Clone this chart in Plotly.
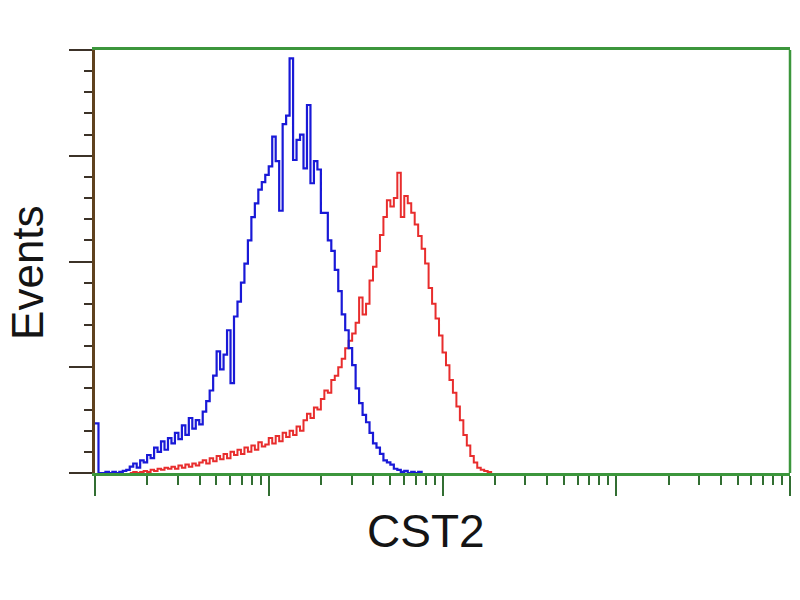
import numpy as np
import plotly.graph_objects as go

# log10 fluorescence intensity (decades) and event counts (axis units, 0-4)
blue_log = [round(0.02 * i, 2) for i in range(95)]
blue_counts = [
    0.47, 0.00, 0.00, 0.01, 0.00, 0.01, 0.00, 0.01, 0.02, 0.03,
    0.06, 0.09, 0.05, 0.12, 0.10, 0.17, 0.14, 0.24, 0.20, 0.30,
    0.22, 0.33, 0.28, 0.38, 0.32, 0.45, 0.36, 0.52, 0.42, 0.50,
    0.46, 0.58, 0.68, 0.78, 0.92, 1.15, 0.98, 1.12, 1.35, 0.85,
    1.48, 1.62, 1.80, 1.98, 2.20, 2.42, 2.55, 2.68, 2.75, 2.82,
    2.90, 3.18, 2.95, 2.48, 3.30, 3.38, 3.92, 2.96, 3.15, 3.20,
    2.88, 3.48, 2.74, 2.95, 2.87, 2.46, 2.46, 2.20, 2.10, 1.92,
    1.72, 1.50, 1.35, 1.18, 1.02, 0.80, 0.66, 0.55, 0.48, 0.38,
    0.28, 0.24, 0.18, 0.12, 0.10, 0.08, 0.04, 0.03, 0.01, 0.02,
    0.00, 0.01, 0.00, 0.01, 0.00,
]

red_log = [round(0.20 + 0.02 * i, 2) for i in range(105)]
red_counts = [
    0.00, 0.01, 0.00, 0.01, 0.02, 0.01, 0.03, 0.02, 0.04, 0.03,
    0.05, 0.04, 0.06, 0.04, 0.07, 0.05, 0.08, 0.06, 0.09, 0.07,
    0.10, 0.12, 0.09, 0.14, 0.11, 0.16, 0.13, 0.18, 0.14, 0.20,
    0.17, 0.22, 0.18, 0.24, 0.20, 0.26, 0.22, 0.29, 0.25, 0.27,
    0.33, 0.28, 0.35, 0.30, 0.38, 0.34, 0.40, 0.36, 0.44, 0.40,
    0.50, 0.56, 0.52, 0.62, 0.60, 0.70, 0.78, 0.76, 0.88, 0.92,
    1.00, 1.08, 1.18, 1.25, 1.32, 1.42, 1.66, 1.50, 1.60, 1.82,
    1.95, 2.10, 2.25, 2.42, 2.58, 2.52, 2.60, 2.84, 2.42, 2.62,
    2.55, 2.46, 2.35, 2.24, 2.12, 1.98, 1.75, 1.60, 1.46, 1.30,
    1.14, 1.02, 0.88, 0.76, 0.63, 0.50, 0.36, 0.26, 0.16, 0.10,
    0.05, 0.03, 0.02, 0.01, 0.00,
]

x_title = "CST2"
y_title = "Events"

fig = go.Figure()
fig.add_trace(go.Scatter(
    x=10 ** np.array(red_log), y=red_counts, mode="lines",
    line=dict(color="rgb(232,45,45)", width=2, shape="hv"),
    showlegend=False, hoverinfo="skip",
))
fig.add_trace(go.Scatter(
    x=10 ** np.array(blue_log), y=blue_counts, mode="lines",
    line=dict(color="rgb(25,25,215)", width=2.2, shape="hv"),
    showlegend=False, hoverinfo="skip",
))

green = "rgb(60,150,60)"
fig.update_layout(
    width=800, height=600,
    margin=dict(l=95, r=10, t=50, b=127),
    paper_bgcolor="white", plot_bgcolor="white",
    font=dict(family="Liberation Sans, Arial, sans-serif", color="black"),
    xaxis=dict(
        type="log", range=[0, 4], showgrid=False, zeroline=False,
        showline=True, linecolor=green, linewidth=2.5, mirror=True,
        ticks="outside", ticklen=20, tickwidth=2, tickcolor="rgb(50,110,50)",
        dtick=1, showticklabels=False,
        minor=dict(ticks="outside", ticklen=9, tickwidth=2,
                   tickcolor="rgb(50,110,50)", dtick="D1", showgrid=False),
    ),
    yaxis=dict(
        range=[0, 4], showgrid=False, zeroline=False,
        showline=True, linecolor="rgb(95,65,30)", linewidth=3,
        ticks="outside", ticklen=23, tickwidth=2, tickcolor="rgb(60,50,40)",
        dtick=1, showticklabels=False,
        minor=dict(ticks="outside", ticklen=8, tickwidth=2,
                   tickcolor="rgb(60,50,40)", dtick=0.2, showgrid=False),
    ),
    shapes=[dict(type="line", xref="paper", yref="paper", x0=1, x1=1, y0=0, y1=1,
                 line=dict(color=green, width=2.5))],
    annotations=[
        dict(text=y_title, xref="paper", yref="paper", x=-0.0964, y=0.473,
             textangle=-90, showarrow=False, xanchor="center", yanchor="middle",
             borderpad=0, font=dict(size=44, color="rgb(20,20,20)")),
        dict(text=x_title, xref="paper", yref="paper", x=0.476, y=-0.137,
             showarrow=False, xanchor="center", yanchor="middle",
             borderpad=0, font=dict(size=46, color="rgb(20,20,20)")),
    ],
)

fig.write_html("out.html", config={"displayModeBar": False},
               post_script="document.body.style.margin='0px';")
